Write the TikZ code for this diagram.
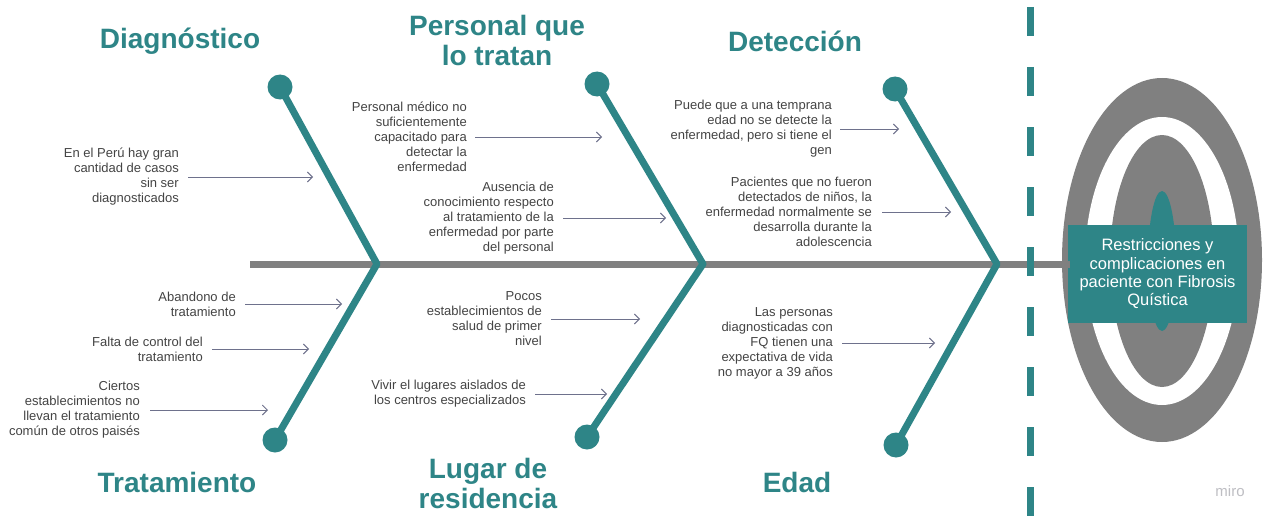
\documentclass[tikz,border=0pt]{standalone}
\usepackage{fontspec}
\setmainfont{Liberation Sans}
\usetikzlibrary{arrows.meta}
\definecolor{teal1}{RGB}{46,133,135}
\definecolor{spinegray}{RGB}{128,128,128}
\definecolor{txtgray}{RGB}{68,68,68}
\definecolor{arrcol}{RGB}{110,113,140}
\definecolor{mirogray}{RGB}{190,190,195}
\begin{document}
\begin{tikzpicture}[x=1pt,y=-1pt,
  cause/.style={font=\fontsize{13}{15}\selectfont, text=txtgray, align=right, inner sep=0pt, anchor=east},
  title/.style={font=\fontsize{28}{30}\selectfont\bfseries, text=teal1, align=center, inner sep=0pt},
  bone/.style={draw=teal1, line width=7pt, line join=round},
  knob/.style={circle, fill=teal1, minimum size=25pt, inner sep=0pt},
  arr/.style={draw=arrcol, line width=0.9pt, -{Straight Barb[length=5pt,width=10pt]}},
]
\useasboundingbox (0,0) rectangle (1280,527);
\fill[white] (0,0) rectangle (1280,527);

% target rings
\fill[spinegray] (1162,260) ellipse [x radius=100, y radius=182];
\fill[white] (1162,261) ellipse [x radius=77, y radius=144];
\fill[spinegray] (1162,261) ellipse [x radius=52, y radius=126];
\fill[teal1] (1162,261) ellipse [x radius=14, y radius=70];

% head box
\node[fill=teal1, text=white, minimum width=179pt, minimum height=98pt, align=center,
      inner sep=0pt, font=\fontsize{16.5}{18.3}\selectfont] (fq) at (1157.5,274)
      {Restricciones y\\complicaciones en\\paciente con Fibrosis\\Quística};

% spine
\coordinate (sp0) at (250,264);
\coordinate (sp1) at (1070,264);
\draw[spinegray, line width=7pt] (sp0) -- (sp1);

% dashed line
\coordinate (d0) at (1030.5,7);
\coordinate (d1) at (1030.5,527);
\draw[teal1, line width=7pt, dash pattern=on 29pt off 31pt] (d0) -- (d1);

% bones
\node[knob] (k1) at (280,87) {};
\node[knob] (k2) at (275,440) {};
\coordinate (j1) at (377,264);
\draw[bone] (k1.center) -- (j1) -- (k2.center);

\node[knob] (k3) at (597,84) {};
\node[knob] (k4) at (587,437) {};
\coordinate (j2) at (703,264);
\draw[bone] (k3.center) -- (j2) -- (k4.center);

\node[knob] (k5) at (895,89) {};
\node[knob] (k6) at (896,445) {};
\coordinate (j3) at (997,264);
\draw[bone] (k5.center) -- (j3) -- (k6.center);

% titles
\node[title] (tD) at (180,41) {Diagnóstico};
\node[title] (tP) at (497,40) {Personal que\\lo tratan};
\node[title] (tDe) at (795,41) {Detección};
\node[title] (tT) at (177,482) {Tratamiento};
\node[title] (tL) at (488,483) {Lugar de\\residencia};
\node[title] (tE) at (797,482) {Edad};

% causes
\node[cause] (t1) at (179,177) {En el Perú hay gran\\cantidad de casos\\sin ser\\diagnosticados};
\node[cause] (t2) at (467,137) {Personal médico no\\suficientemente\\capacitado para\\detectar la\\enfermedad};
\node[cause] (t3) at (554,218) {Ausencia de\\conocimiento respecto\\al tratamiento de la\\enfermedad por parte\\del personal};
\node[cause] (t4) at (832,129) {Puede que a una temprana\\edad no se detecte la\\enfermedad, pero si tiene el\\gen};
\node[cause] (t5) at (872,212) {Pacientes que no fueron\\detectados de niños, la\\enfermedad normalmente se\\desarrolla durante la\\adolescencia};
\node[cause] (t6) at (236,304) {Abandono de\\tratamiento};
\node[cause] (t7) at (203,349) {Falta de control del\\tratamiento};
\node[cause] (t8) at (140,410) {Ciertos\\establecimientos no\\llevan el tratamiento\\común de otros paisés};
\node[cause] (t9) at (542,319) {Pocos\\establecimientos de\\salud de primer\\nivel};
\node[cause] (t10) at (526,394) {Vivir el lugares aislados de\\los centros especializados};
\node[cause] (t11) at (833,343) {Las personas\\diagnosticadas con\\FQ tienen una\\expectativa de vida\\no mayor a 39 años};

% arrow ends
\coordinate (a1) at (313,177);
\coordinate (a2) at (602,137);
\coordinate (a3) at (666,218);
\coordinate (a4) at (899,129);
\coordinate (a5) at (951,212);
\coordinate (a6) at (342,304);
\coordinate (a7) at (309,349);
\coordinate (a8) at (268,410);
\coordinate (a9) at (640,319);
\coordinate (a10) at (607,394);
\coordinate (a11) at (935,343);

\draw[arr] ([xshift=9pt]t1.east) -- (a1);
\draw[arr] ([xshift=8pt]t2.east) -- (a2);
\draw[arr] ([xshift=9pt]t3.east) -- (a3);
\draw[arr] ([xshift=8pt]t4.east) -- (a4);
\draw[arr] ([xshift=10pt]t5.east) -- (a5);
\draw[arr] ([xshift=9pt]t6.east) -- (a6);
\draw[arr] ([xshift=9pt]t7.east) -- (a7);
\draw[arr] ([xshift=10pt]t8.east) -- (a8);
\draw[arr] ([xshift=9pt]t9.east) -- (a9);
\draw[arr] ([xshift=9pt]t10.east) -- (a10);
\draw[arr] ([xshift=9pt]t11.east) -- (a11);

\node[text=mirogray, font=\fontsize{15}{15}\selectfont, inner sep=0pt] (miro) at (1230,491) {miro};
\end{tikzpicture}
\end{document}
